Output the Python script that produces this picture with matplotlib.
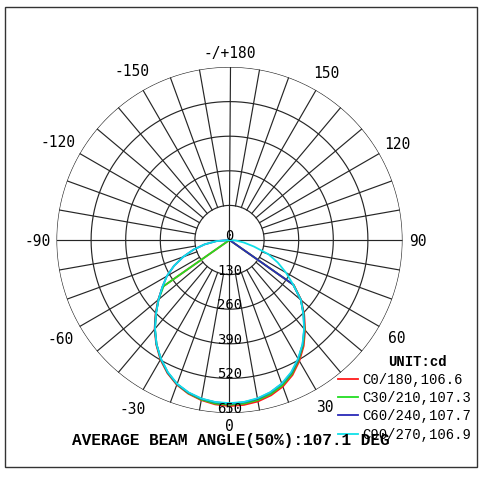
import numpy as np
import matplotlib
matplotlib.use("Agg")
import matplotlib.pyplot as plt
from matplotlib.patches import Rectangle

# ---------------- data ----------------
gamma_deg = [-90, -85, -80, -75, -70, -65, -60, -55, -50, -45, -40, -35, -30, -25, -20,
             -15, -10, -5, 0, 5, 10, 15, 20, 25, 30, 35, 40, 45, 50, 55, 60, 65, 70,
             75, 80, 85, 90]
c0_180 = [0, 0, 0, 0, 0, 0, 0, 306, 350, 393, 438, 480, 519, 552, 579, 598, 611, 620, 624,
          622, 616, 604, 586, 560, 525, 486, 442, 397, 352, 295, 0, 0, 0, 0, 0, 0, 0]
c30_210 = [0, 0, 0, 0, 0, 0, 0, 302, 348, 391, 436, 478, 517, 550, 577, 596, 609, 617, 619,
           617, 611, 599, 581, 555, 520, 482, 439, 394, 350, 293, 0, 0, 0, 0, 0, 0, 0]
c60_240 = [0, 50, 95, 140, 185, 230, 272, 308, 348, 391, 436, 478, 516, 549, 576, 594, 606, 612, 615,
           612, 606, 593, 575, 550, 517, 479, 437, 393, 350, 292, 0, 0, 0, 0, 0, 0, 0]
c90_270 = [0, 50, 95, 140, 185, 230, 272, 308, 348, 390, 435, 478, 515, 548, 575, 593, 605, 611, 613,
           611, 604, 592, 574, 548, 515, 478, 436, 392, 350, 292, 245, 200, 155, 95, 55, 25, 0]

series_labels = ["C0/180,106.6", "C30/210,107.3", "C60/240,107.7", "C90/270,106.9"]
series_colors = ["#ff1a1a", "#22dd22", "#2a2ab8", "#10e0e8"]

ring_values = [130, 260, 390, 520, 650]
ring_labels = ["130", "260", "390", "520", "650"]
angle_ticks = [0, 30, 60, 90, 120, 150, 180, -150, -120, -90, -60, -30]
angle_labels = ["0", "30", "60", "90", "120", "150", "-/+180", "-150", "-120", "-90", "-60", "-30"]
unit_text = "UNIT:cd"
footer_text = "AVERAGE BEAM ANGLE(50%):107.1 DEG"

# ---------------- layout ----------------
W, H = 481, 482
fig = plt.figure(figsize=(W / 100, H / 100), dpi=100)
fig.patch.set_facecolor("white")

cx, cy, R = 229.5, 240.0, 173.0
ax = fig.add_axes([(cx - R) / W, (H - cy - R) / H, 2 * R / W, 2 * R / H], projection="polar")
ax.set_theta_zero_location("S")
ax.set_theta_direction(1)
rmax = ring_values[-1]
ax.set_ylim(0, rmax)
ax.set_xticks([])
ax.set_yticks([])
ax.grid(False)
ax.spines["polar"].set_visible(False)
ax.patch.set_alpha(0)

px2r = rmax / R
grid_c = "#262626"
grid_lw = 0.85

# rings
th = np.linspace(0, 2 * np.pi, 721)
for rv in ring_values:
    ax.plot(th, np.full_like(th, rv), color=grid_c, lw=grid_lw, zorder=1)

# spokes every 10 degrees from inner ring, full diameters on main axes
for a in range(0, 360, 10):
    t = np.deg2rad(a)
    ax.plot([t, t], [ring_values[0], rmax], color=grid_c, lw=grid_lw, zorder=1)
for a in (0, 90, 180, 270):
    t = np.deg2rad(a)
    ax.plot([t, t], [0, ring_values[0]], color=grid_c, lw=grid_lw, zorder=1)

# curves
theta = np.deg2rad(gamma_deg)
lines = []
for vals, col, lab in zip([c0_180, c30_210, c60_240, c90_270], series_colors, series_labels):
    ln, = ax.plot(theta, vals, color=col, lw=1.3, label=lab, zorder=3)
    lines.append(ln)

sansmono = "DejaVu Sans Mono"
# ring labels
ax.text(0, 0, "0", ha="center", va="baseline", fontsize=10, family=sansmono, zorder=4)
for rv, lab in zip(ring_values, ring_labels):
    ax.text(0, rv, lab, ha="center", va="baseline", fontsize=10, family=sansmono,
            zorder=4, clip_on=False)

# angle labels
label_r_px = [185.5, 191.5, 193, 188, 194, 194, 188, 196, 198, 192, 195, 194]
for a, lab, rp in zip(angle_ticks, angle_labels, label_r_px):
    ax.text(np.deg2rad(a), rp * px2r, lab, ha="center", va="center_baseline",
            fontsize=10.5, family=sansmono, clip_on=False)

# legend
mono = "Liberation Mono"
fig.text(388 / W, 1 - 362 / H, unit_text, fontsize=10, family=mono, weight="bold",
         ha="left", va="center")
leg = ax.legend(handles=lines, loc="upper left",
                bbox_to_anchor=(338 / W, 1 - 373 / H), bbox_transform=fig.transFigure,
                frameon=False, borderpad=0, borderaxespad=0, handlelength=1.45,
                handletextpad=0.3, labelspacing=0.3,
                prop={"family": mono, "size": 10})

fig.text(72 / W, 1 - 440 / H, footer_text, fontsize=11.6, family=mono, weight="bold",
         ha="left", va="center")

# outer frame
fig.add_artist(Rectangle((5 / W, 1 - 467 / H), (477 - 5) / W, (467 - 7) / H, fill=False,
                         transform=fig.transFigure, lw=1.0, ec="#333333"))

fig.savefig("out.png", dpi=100)
